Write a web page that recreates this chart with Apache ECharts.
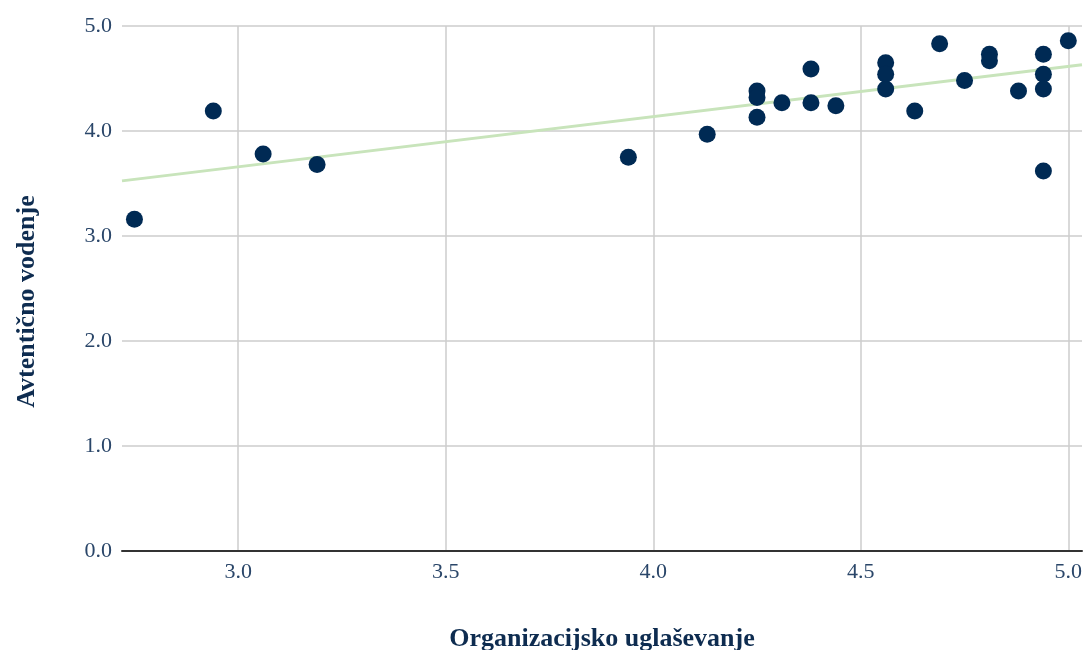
<!DOCTYPE html>
<html>
<head>
<meta charset="utf-8">
<script src="https://cdn.jsdelivr.net/npm/echarts@6/dist/echarts.min.js"></script>
<style>
  html, body { margin: 0; padding: 0; background: #ffffff; }
  #chart { width: 1084px; height: 650px; }
</style>
</head>
<body>
<div id="chart"></div>
<script>
// Data
const xTitle = 'Organizacijsko uglaševanje';
const yTitle = 'Avtentično vodenje';

const orgValues = [
  2.75, 2.94, 3.06, 3.19, 3.94, 4.13,
  4.25, 4.25, 4.25, 4.31, 4.38, 4.38, 4.44,
  4.56, 4.56, 4.56, 4.63, 4.69, 4.75, 4.81, 4.81,
  4.88, 4.94, 4.94, 4.94, 4.94, 5.00
];
const authValues = [
  3.16, 4.19, 3.78, 3.68, 3.75, 3.97,
  4.38, 4.32, 4.13, 4.27, 4.59, 4.27, 4.24,
  4.65, 4.54, 4.40, 4.19, 4.83, 4.48, 4.73, 4.67,
  4.38, 4.73, 4.54, 4.40, 3.62, 4.86
];

const trendX = [2.72, 5.033];
const trendY = [3.525, 4.63];

const xTicks = [3.0, 3.5, 4.0, 4.5, 5.0];
const yTicks = [0, 1, 2, 3, 4, 5];

const points = orgValues.map((x, i) => [x, authValues[i]]);
const trend = trendX.map((x, i) => [x, trendY[i]]);

const chart = echarts.init(document.getElementById('chart'), null, { renderer: 'canvas' });
const serif = '"Liberation Serif", "DejaVu Serif", serif';

chart.setOption({
  animation: false,
  backgroundColor: '#ffffff',
  grid: { left: 122, right: 2, top: 26, bottom: 99, containLabel: false, outerBoundsMode: 'none' },
  xAxis: {
    type: 'value',
    min: trendX[0],
    max: trendX[1],
    name: xTitle,
    nameLocation: 'middle',
    nameGap: 75,
    nameTextStyle: { fontFamily: serif, fontSize: 26, fontWeight: 'bold', color: '#0e2c50' },
    axisLine: { show: true, lineStyle: { color: '#333333', width: 2 } },
    axisTick: { show: false, customValues: xTicks },
    axisLabel: {
      customValues: xTicks,
      formatter: v => Number(v).toFixed(1),
      fontFamily: serif, fontSize: 22, color: '#2a4669', margin: 10
    },
    splitLine: { show: true, lineStyle: { color: '#cccccc', width: 1.5 } }
  },
  yAxis: {
    type: 'value',
    min: yTicks[0],
    max: yTicks[yTicks.length - 1],
    interval: 1,
    name: yTitle,
    nameLocation: 'middle',
    nameGap: 82,
    nameTextStyle: { fontFamily: serif, fontSize: 26, fontWeight: 'bold', color: '#0e2c50', padding: [0, 26, 0, 0] },
    axisLine: { show: false },
    axisTick: { show: false },
    axisLabel: {
      formatter: v => Number(v).toFixed(1),
      fontFamily: serif, fontSize: 22, color: '#2a4669', margin: 10
    },
    splitLine: { show: true, lineStyle: { color: '#cccccc', width: 1.5 } }
  },
  series: [
    {
      type: 'line',
      data: trend,
      symbol: 'none',
      z: 1,
      lineStyle: { color: '#c8e4bb', width: 3 },
      silent: true
    },
    {
      type: 'scatter',
      data: points,
      symbol: 'circle',
      symbolSize: 17,
      z: 2,
      itemStyle: { color: '#002a54', opacity: 1 }
    }
  ]
});
</script>
</body>
</html>
